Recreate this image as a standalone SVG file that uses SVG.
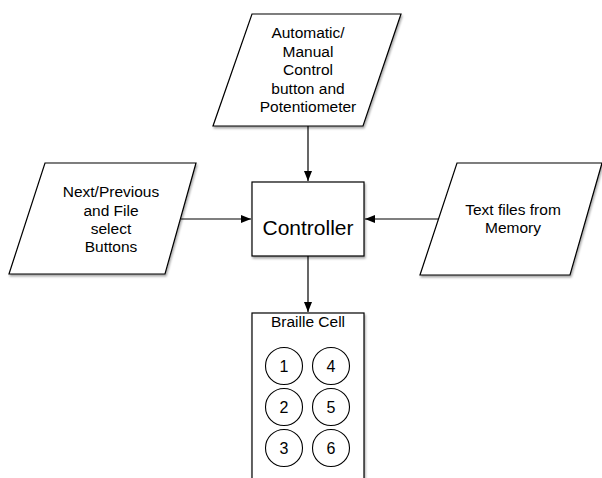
<svg xmlns="http://www.w3.org/2000/svg" width="602" height="478" viewBox="0 0 602 478">
<defs>
<style>
.shape{fill:#ffffff;stroke:#000000;stroke-width:1.2;filter:url(#sh)}
.t{font-family:"Liberation Sans",Arial,Helvetica,sans-serif;font-size:15.5px;fill:#000;text-anchor:middle}
.big{font-size:21px}
.num{font-size:16px}
.c{fill:#ffffff;stroke:#000;stroke-width:1.1}
.edge{stroke:#000;stroke-width:1.2;fill:none;marker-end:url(#ah)}
</style>
<filter id="sh" x="-10%" y="-10%" width="130%" height="130%">
<feDropShadow dx="1" dy="2" stdDeviation="1.2" flood-color="#000" flood-opacity="0.35"/>
</filter>
<marker id="ah" viewBox="0 0 10 10" refX="10" refY="5" markerWidth="10" markerHeight="10" markerUnits="userSpaceOnUse" orient="auto">
<path d="M0,1 L10,5 L0,9 Z" fill="#000"/>
</marker>
</defs>
<rect width="602" height="478" fill="#ffffff"/>
<g id="connectors">
<line class="edge" x1="308" y1="126" x2="308" y2="181"/>
<line class="edge" x1="181" y1="219" x2="251" y2="219"/>
<line class="edge" x1="439" y1="219" x2="365" y2="219"/>
<line class="edge" x1="308" y1="256" x2="308" y2="312"/>
</g>
<g id="node-auto">
<polygon class="shape" points="252,14 401,14 363,126 213,126"/>
<text class="t" x="308" y="38">Automatic/</text>
<text class="t" x="308" y="57">Manual</text>
<text class="t" x="308" y="75">Control</text>
<text class="t" x="308" y="94">button and</text>
<text class="t" x="308" y="112">Potentiometer</text>
</g>
<g id="node-buttons">
<polygon class="shape" points="45,163 196,163 165,274 9,274"/>
<text class="t" x="111" y="197">Next/Previous</text>
<text class="t" x="111" y="216">and File</text>
<text class="t" x="111" y="234">select</text>
<text class="t" x="111" y="252">Buttons</text>
</g>
<g id="node-controller">
<rect class="shape" x="252" y="182" width="112" height="74"/>
<text class="t big" x="308" y="235">Controller</text>
</g>
<g id="node-memory">
<polygon class="shape" points="457,163 602,163 570,275 420,275"/>
<text class="t" x="513" y="215">Text files from</text>
<text class="t" x="513" y="233">Memory</text>
</g>
<g id="node-braille">
<rect class="shape" x="252" y="313" width="112" height="175"/>
<text class="t" x="308" y="327">Braille Cell</text>
<circle class="c" cx="284" cy="366" r="18.5"/>
<circle class="c" cx="331" cy="366" r="18.5"/>
<circle class="c" cx="284" cy="407" r="18.5"/>
<circle class="c" cx="331" cy="407" r="18.5"/>
<circle class="c" cx="284" cy="448" r="18.5"/>
<circle class="c" cx="331" cy="448" r="18.5"/>
<text class="t num" x="284" y="372">1</text>
<text class="t num" x="331" y="372">4</text>
<text class="t num" x="284" y="413">2</text>
<text class="t num" x="331" y="413">5</text>
<text class="t num" x="284" y="454">3</text>
<text class="t num" x="331" y="454">6</text>
</g>
</svg>
